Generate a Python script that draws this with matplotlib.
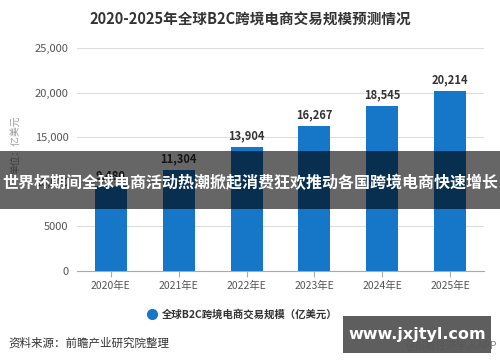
import matplotlib
matplotlib.use("Agg")
import matplotlib.pyplot as plt
from matplotlib.patches import Rectangle

plt.rcParams['font.family'] = ['Noto Sans CJK SC', 'DejaVu Sans']

categories = ["2020年E", "2021年E", "2022年E", "2023年E", "2024年E", "2025年E"]
values = [9480, 11304, 13904, 16267, 18545, 20214]
value_labels = ["9,480", "11,304", "13,904", "16,267", "18,545", "20,214"]
yticks = [0, 5000, 10000, 15000, 20000, 25000]
ytick_labels = ["0", "5000", "10,000", "15,000", "20,000", "25,000"]

title = "2020-2025年全球B2C跨境电商交易规模预测情况"
legend_label = "全球B2C跨境电商交易规模（亿美元）"
ylabel = "单位：亿美元"
source = "资料来源：前瞻产业研究院整理"
credit = "@前瞻经济学人APP"
banner = "世界杯期间全球电商活动热潮掀起消费狂欢推动各国跨境电商快速增长"
watermark = "www.jxjtyl.com"

W, H = 500, 362
fig = plt.figure(figsize=(W / 100, H / 100), dpi=100)
fig.patch.set_facecolor("white")

ax = fig.add_axes([77 / W, 1 - 271 / H, (484 - 77) / W, (271 - 48) / H])
x = range(len(categories))
bar_color = "#1677c8"
ax.bar(x, values, width=0.47, color=bar_color, zorder=3)
for xi, v, lab in zip(x, values, value_labels):
    ax.text(xi, v + 500, lab, ha="center", va="bottom", fontsize=8,
            fontweight="bold", color="#333333", zorder=4)

ax.set_xlim(-0.5, len(categories) - 0.5)
ax.set_ylim(0, 25000)
ax.set_yticks(yticks)
ax.set_yticklabels(ytick_labels, fontsize=8, color="#555555")
ax.set_xticks(list(x))
ax.set_xticklabels(categories, fontsize=7.5, color="#555555")
ax.grid(axis="y", color="#dddddd", linewidth=0.8, zorder=0)
for s in ["top", "right", "left"]:
    ax.spines[s].set_visible(False)
ax.spines["bottom"].set_color("#aaaaaa")
ax.tick_params(axis="y", length=0, pad=6)
ax.tick_params(axis="x", length=4, color="#aaaaaa", pad=3)

fig.text(250 / W, 1 - 20 / H, title, ha="center", va="center", fontsize=10.5,
         fontweight="bold", color="#333333")
fig.text(15 / W, 1 - 145 / H, ylabel, ha="center", va="center", rotation=90,
         fontsize=7, color="#999999")

# legend
fig.lines.append(plt.Line2D([152 / W], [1 - 314 / H], marker="o", markersize=7,
                            color=bar_color, transform=fig.transFigure, linestyle="none"))
fig.text(162 / W, 1 - 314 / H, legend_label, ha="left", va="center", fontsize=7.5,
         fontweight="bold", color="#333333")

fig.text(8 / W, 1 - 343 / H, source, ha="left", va="center", fontsize=8.3, color="#333333")
fig.text(497 / W, 1 - 345 / H, credit, ha="right", va="center", fontsize=7.5, color="#888888")

# banner overlay
fig.patches.append(Rectangle((0, 1 - 209 / H), 1, 58 / H, transform=fig.transFigure,
                             facecolor="black", alpha=0.6, edgecolor="none", zorder=10))
fig.text(250 / W, 1 - 183 / H, banner, ha="center", va="center", fontsize=11.5,
         fontweight="bold", color="white", zorder=11)

# watermark box
fig.patches.append(Rectangle((343 / W, 1 - 353 / H), 148 / W, 37 / H, transform=fig.transFigure,
                             facecolor="#555555", alpha=0.95, edgecolor="none", zorder=10))
fig.text(417 / W, 1 - 334 / H, watermark, ha="center", va="center", fontsize=11.5,
         fontweight="bold", color="white", family="DejaVu Sans", zorder=11)

fig.savefig("out.png", dpi=100)
